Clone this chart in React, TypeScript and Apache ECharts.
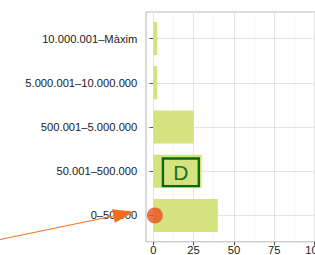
import React, { useEffect, useRef } from "react";
import * as echarts from "echarts";

// Categories listed bottom-to-top (ECharts category y axis starts at the bottom)
const categories = [
  "0–50.000",
  "50.001–500.000",
  "500.001–5.000.000",
  "5.000.001–10.000.000",
  "10.000.001–Màxim",
];
const values = [40, 30, 25, 2.5, 2.5];
const xTicks = [0, 25, 50, 75, 100];
const xMinor = [12.5, 37.5, 62.5, 87.5, 112.5];
const highlightPoint: [number, string] = [1, "0–50.000"];
const boxLabel = "D";

const FONT = '"Liberation Sans", Arial, Helvetica, sans-serif';

export default function App() {
  const ref = useRef<HTMLDivElement>(null);

  useEffect(() => {
    if (!ref.current) return;
    const chart = echarts.init(ref.current, undefined, { renderer: "svg" });

    const panelLeft = 146;
    const panelTop = 12;
    const panelH = 230;
    const pxPerUnit = 1.613;
    const xMin = -4.5;
    const xMax = 120;
    const panelW = (xMax - xMin) * pxPerUnit;
    const band = panelH / 5.2;

    const gridLineStyle = (color: string, width: number) => ({
      type: "solid" as const,
      color,
      width,
    });

    const option: any = {
      animation: false,
      textStyle: { fontFamily: FONT },
      grid: [
        {
          left: panelLeft,
          top: panelTop,
          width: panelW,
          height: panelH,
          show: true,
          borderColor: "#b8b8b8",
          borderWidth: 1,
          backgroundColor: "transparent",
          containLabel: false,
        },
        {
          left: panelLeft,
          top: panelTop + band * 0.1,
          width: panelW,
          height: band * 5,
          show: false,
          containLabel: false,
        },
      ],
      xAxis: [
        {
          gridIndex: 0,
          type: "value",
          min: xMin,
          max: xMax,
          axisLine: { show: false },
          splitLine: { show: false },
          axisTick: {
            show: true,
            customValues: xTicks,
            length: 3.7,
            lineStyle: { color: "#555", width: 1 },
          },
          axisLabel: {
            customValues: xTicks,
            margin: 2.2,
            fontSize: 11.2,
            color: "#1a1a1a",
            fontFamily: FONT,
          },
        },
        {
          gridIndex: 1,
          type: "value",
          min: xMin,
          max: xMax,
          show: false,
        },
      ],
      yAxis: [
        {
          gridIndex: 0,
          type: "value",
          min: 0,
          max: 1,
          show: false,
        },
        {
          gridIndex: 1,
          type: "category",
          data: categories,
          axisLine: { show: false },
          splitLine: { show: false },
          axisTick: {
            show: true,
            alignWithLabel: true,
            length: 3.7,
            lineStyle: { color: "#555", width: 1 },
          },
          axisLabel: {
            margin: 8.7,
            fontSize: 11.2,
            color: "#1a1a1a",
            fontFamily: FONT,
          },
        },
      ],
      series: [
        {
          type: "scatter",
          xAxisIndex: 0,
          yAxisIndex: 0,
          data: [],
          z: 0,
          silent: true,
          markLine: {
            z: 0,
            silent: true,
            symbol: ["none", "none"],
            label: { show: false },
            animation: false,
            data: [
              ...xMinor.map((v) => ({ xAxis: v, lineStyle: gridLineStyle("#f0f0f0", 0.6) })),
              ...xTicks.map((v) => ({ xAxis: v, lineStyle: gridLineStyle("#e4e4e4", 1) })),
            ],
          },
        },
        {
          type: "scatter",
          xAxisIndex: 1,
          yAxisIndex: 1,
          data: [],
          z: 0,
          silent: true,
          markLine: {
            z: 0,
            silent: true,
            symbol: ["none", "none"],
            label: { show: false },
            animation: false,
            data: categories.map((c) => ({ yAxis: c, lineStyle: gridLineStyle("#e4e4e4", 1) })),
          },
        },
        {
          type: "bar",
          xAxisIndex: 1,
          yAxisIndex: 1,
          data: values,
          barWidth: band * 0.75,
          itemStyle: { color: "#d5e280" },
          z: 3,
        },
        {
          type: "scatter",
          xAxisIndex: 1,
          yAxisIndex: 1,
          data: [highlightPoint],
          symbol: "circle",
          symbolSize: 16,
          itemStyle: { color: "#e8531c" },
          z: 5,
        },
      ],
      graphic: [
        {
          type: "rect",
          z: 10,
          shape: { x: 162.9, y: 158.5, width: 35.9, height: 27.6 },
          style: { fill: "none", stroke: "#0d6b0d", lineWidth: 2.4 },
        },
        {
          type: "text",
          z: 11,
          style: {
            text: boxLabel,
            x: 180.8,
            y: 172.6,
            align: "center",
            verticalAlign: "middle",
            fontSize: 21,
            fontFamily: FONT,
            fill: "#177217",
          },
        },
        {
          type: "line",
          z: 10,
          shape: { x1: 0, y1: 239.5, x2: 116, y2: 215.5 },
          style: { stroke: "#f3731f", lineWidth: 1.1 },
        },
        {
          type: "polygon",
          z: 10,
          shape: {
            points: [
              [133.3, 212],
              [115.0, 222.4],
              [112.4, 209.6],
            ],
          },
          style: { fill: "#f36c1c", stroke: "#f36c1c", lineWidth: 0.5 },
        },
      ],
    };

    chart.setOption(option);
    return () => chart.dispose();
  }, []);

  return (
    <div
      style={{
        position: "fixed",
        left: 0,
        top: 0,
        width: 315,
        height: 255,
        overflow: "hidden",
        background: "#fff",
      }}
    >
      <div ref={ref} style={{ width: 380, height: 255 }} />
    </div>
  );
}
